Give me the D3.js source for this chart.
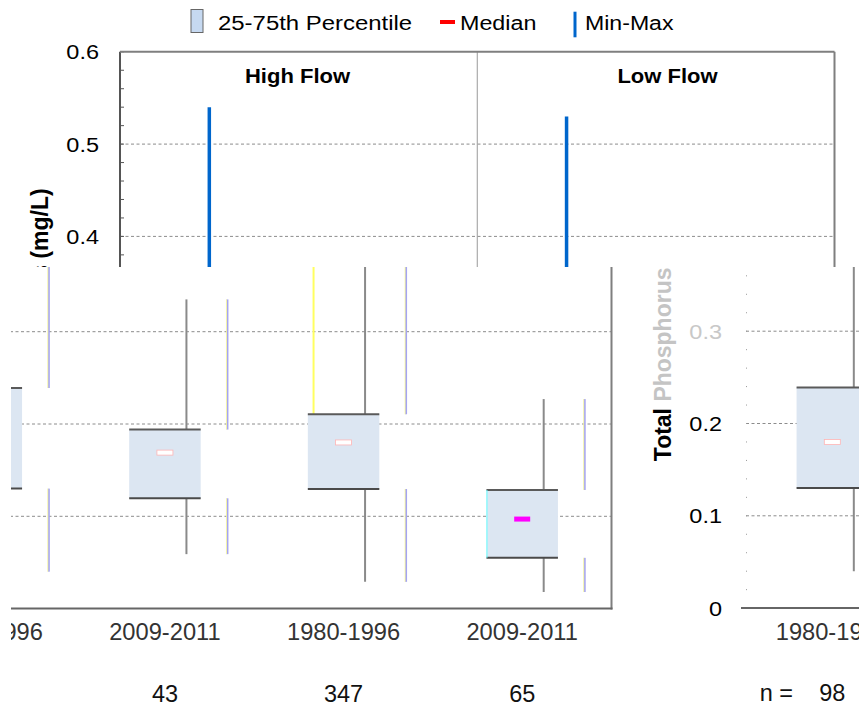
<!DOCTYPE html>
<html>
<head>
<meta charset="utf-8">
<script src="https://cdn.jsdelivr.net/npm/d3@7/dist/d3.min.js"></script>
<style>
  body { margin: 0; background: #fff; }
  text { font-family: "Liberation Sans", Arial, sans-serif; }
</style>
</head>
<body>
<svg id="chart" width="859" height="707"></svg>
<script>
// box plot values
const flows = ["High Flow", "Low Flow"];
const periods = ["1980-1996", "2009-2011", "1980-1996", "2009-2011"];
const counts = [98, 43, 347, 65];
const maxV = [0.54, 0.335, 0.53, 0.227];
const q3V = [0.239, 0.194, 0.2105, 0.1285];
const medV = [0.180, 0.169, 0.180, 0.097];
const q1V = [0.130, 0.1195, 0.1296, 0.055];
const minV = [0.040, 0.059, 0.029, 0.018];
const yTicks = [0, 0.1, 0.2, 0.3, 0.4, 0.5, 0.6];
const yTickLabels = ["0", "0.1", "0.2", "0.3", "0.4", "0.5", "0.6"];

const svg = d3.select("#chart");
const pLeft = 120, pRight = 834.5, pTop = 51.8, pBottom = 605.6;

const x = d3.scaleBand().domain(d3.range(periods.length)).range([pLeft, pRight]);
const cx = i => x(i) + x.bandwidth() / 2;
const y = d3.scaleLinear().domain([0, 0.6]).range([pBottom, pTop]);
const boxW = 71.5;

// text that is a bit stretched sideways, like the picture
function stext(g, tx, ty, str, size, sx, anchor, weight, fill){
    return g.append("text")
        .attr("transform", `translate(${tx},${ty}) scale(${sx},1)`)
        .attr("text-anchor", anchor)
        .attr("font-size", size)
        .attr("font-weight", weight || "normal")
        .attr("fill", fill || "#000")
        .text(str);
}

function drawChart(g, low){
    // grid
    g.selectAll(".grid").data(yTicks.filter(t => t > 0 && t < 0.6)).enter().append("line")
        .attr("x1", low ? pLeft + 3 : pLeft).attr("x2", pRight)
        .attr("y1", d => y(d)).attr("y2", d => y(d))
        .attr("stroke", "#8c8c8c").attr("stroke-width", 1).attr("stroke-dasharray", "3,2.5");

    // minor ticks on y axis
    const minor = d3.range(0, 0.6001, 0.02);
    if(!low){
        g.selectAll(".minor").data(minor).enter().append("line")
            .attr("x1", pLeft).attr("x2", pLeft + 4)
            .attr("y1", d => y(d)).attr("y2", d => y(d))
            .attr("stroke", "#555").attr("stroke-width", 1);
        g.append("line").attr("x1", pLeft).attr("x2", pLeft).attr("y1", pTop).attr("y2", pBottom)
            .attr("stroke", "#555").attr("stroke-width", 2);
        g.append("line").attr("x1", x(2)).attr("x2", x(2)).attr("y1", pTop).attr("y2", pBottom)
            .attr("stroke", "#999").attr("stroke-width", 1);
    } else {
        g.selectAll(".minor").data(minor).enter().append("rect")
            .attr("x", pLeft + 3).attr("y", d => y(d) - 0.5)
            .attr("width", 1).attr("height", 1).attr("fill", "#999");
    }
    g.append("line").attr("x1", pLeft).attr("x2", pRight).attr("y1", pTop).attr("y2", pTop)
        .attr("stroke", "#7f7f7f").attr("stroke-width", 2);
    g.append("line").attr("x1", pRight).attr("x2", pRight).attr("y1", pTop).attr("y2", pBottom + 1)
        .attr("stroke", "#7f7f7f").attr("stroke-width", 2);
    g.append("line").attr("x1", low ? pLeft - 2 : pLeft).attr("x2", pRight + 1).attr("y1", pBottom).attr("y2", pBottom)
        .attr("stroke", "#666").attr("stroke-width", 2);

    // tick labels
    yTicks.forEach((t, i) => {
        const faded = low && t === 0.3;
        stext(g, 99, y(t) + 7.5, yTickLabels[i], 21, 1.12, "end", "normal", faded ? "#c8c8c8" : "#000");
    });

    // y axis title
    const lab = g.append("text")
        .attr("transform", "translate(47.7,458.7) rotate(-90) scale(1,1.08)")
        .attr("font-size", 23).attr("font-weight", "bold");
    lab.append("tspan").text("Total ");
    lab.append("tspan").attr("fill", low ? "#c4c4c4" : "#000").text("Phosphorus");
    lab.append("tspan").text(" (mg/L)");

    if(!low){
        // panel titles
        stext(g, 297.5, 82.7, flows[0], 20, 1.1, "middle", "bold");
        stext(g, 667.5, 82.7, flows[1], 20, 1.1, "middle", "bold");

        // legend
        g.append("rect").attr("x", 191).attr("y", 9.5).attr("width", 12).attr("height", 23)
            .attr("fill", "#c6d9f1").attr("stroke", "#666").attr("stroke-width", 1);
        stext(g, 218, 30, "25-75th Percentile", 21, 1.14, "start");
        g.append("line").attr("x1", 440).attr("x2", 455).attr("y1", 22).attr("y2", 22)
            .attr("stroke", "#ff0000").attr("stroke-width", 4);
        stext(g, 460, 30, "Median", 21, 1.11, "start");
        g.append("line").attr("x1", 575).attr("x2", 575).attr("y1", 11.7).attr("y2", 37.3)
            .attr("stroke", "#0066cc").attr("stroke-width", 3);
        stext(g, 585, 30, "Min-Max", 21, 1.1, "start");
    }

    const idx = d3.range(periods.length);

    // whiskers
    if(!low){
        g.selectAll(".whisk").data(idx).enter().append("line")
            .attr("x1", cx).attr("x2", cx)
            .attr("y1", i => y(maxV[i])).attr("y2", i => y(minV[i]))
            .attr("stroke", "#0066cc").attr("stroke-width", 3.5);
    } else {
        g.selectAll(".whisk").data(idx).enter().append("line")
            .attr("x1", i => cx(i) + 21.5).attr("x2", i => cx(i) + 21.5)
            .attr("y1", i => y(maxV[i])).attr("y2", i => y(minV[i]))
            .attr("stroke", "#8a8a8a").attr("stroke-width", 2);
        // ghost copies of the whiskers
        const segs = [];
        idx.forEach(i => {
            segs.push([i, maxV[i], q3V[i]]);
            segs.push([i, q1V[i], minV[i]]);
        });
        g.selectAll(".ghostB").data(segs).enter().append("line")
            .attr("x1", d => cx(d[0]) + 62.5).attr("x2", d => cx(d[0]) + 62.5)
            .attr("y1", d => y(d[1])).attr("y2", d => y(d[2]))
            .attr("stroke", "#a4a4f2").attr("stroke-width", 2);
        g.selectAll(".ghostA").data(segs).enter().append("line")
            .attr("x1", d => cx(d[0]) + 61.5).attr("x2", d => cx(d[0]) + 61.5)
            .attr("y1", d => y(d[1])).attr("y2", d => y(d[2]))
            .attr("stroke", "#ffff90").attr("stroke-width", 0.8);
        g.append("line")
            .attr("x1", cx(2) - 30).attr("x2", cx(2) - 30)
            .attr("y1", y(maxV[2])).attr("y2", y(q3V[2]))
            .attr("stroke", "#ffff60").attr("stroke-width", 2);
    }

    // boxes
    g.selectAll(".box").data(idx).enter().append("rect")
        .attr("x", i => cx(i) - boxW / 2).attr("width", boxW)
        .attr("y", i => y(q3V[i])).attr("height", i => y(q1V[i]) - y(q3V[i]))
        .attr("fill", "#dce6f2");
    if(low){
        g.selectAll(".boxT").data(idx).enter().append("line")
            .attr("x1", i => cx(i) - boxW / 2).attr("x2", i => cx(i) + boxW / 2)
            .attr("y1", i => y(q3V[i])).attr("y2", i => y(q3V[i]))
            .attr("stroke", "#5a5a5a").attr("stroke-width", 2);
        g.selectAll(".boxB").data(idx).enter().append("line")
            .attr("x1", i => cx(i) - boxW / 2).attr("x2", i => cx(i) + boxW / 2)
            .attr("y1", i => y(q1V[i])).attr("y2", i => y(q1V[i]))
            .attr("stroke", "#4a4a4a").attr("stroke-width", 2);
        g.append("line")
            .attr("x1", cx(3) - boxW / 2 + 0.5).attr("x2", cx(3) - boxW / 2 + 0.5)
            .attr("y1", y(q3V[3])).attr("y2", y(q1V[3]))
            .attr("stroke", "#66ffff").attr("stroke-width", 1);
    }

    // medians
    g.selectAll(".med").data(idx).enter().append("rect")
        .attr("x", i => cx(i) - 8).attr("y", i => y(medV[i]) - 2.5)
        .attr("width", 16).attr("height", 5)
        .attr("fill", i => !low ? "#ff0000" : (i === 3 ? "#ff00ff" : "#ffffff"))
        .attr("stroke", i => (low && i !== 3) ? "#ffb4b4" : "none")
        .attr("stroke-width", 0.8);

    // category labels and counts
    idx.forEach(i => {
        stext(g, cx(i), 637, periods[i], 23, 1.03, "middle", "normal", "#333");
        stext(g, cx(i), 698.7, String(counts[i]), 23.5, 1, "middle", "normal", "#111");
    });
    stext(g, cx(0) - 56, 698.7, "n =", 23.5, 1, "middle", "normal", "#111");
}

// the picture is cut into strips, each a shifted copy of the chart
const strips = [
    {id: "cTop", rect: [0, 0, 859, 267], dx: 0, dy: 0, low: false},
    {id: "cLow1", rect: [11, 267, 619, 440], dx: -223, dy: 3, low: true},
    {id: "cLow2", rect: [630, 267, 229, 440], dx: 623, dy: 2.5, low: true}
];
const defs = svg.append("defs");
strips.forEach(s => {
    defs.append("clipPath").attr("id", s.id).append("rect")
        .attr("x", s.rect[0]).attr("y", s.rect[1]).attr("width", s.rect[2]).attr("height", s.rect[3]);
    const g = svg.append("g").attr("clip-path", `url(#${s.id})`)
        .append("g").attr("transform", `translate(${s.dx},${s.dy})`);
    drawChart(g, s.low);
});
</script>
</body>
</html>
